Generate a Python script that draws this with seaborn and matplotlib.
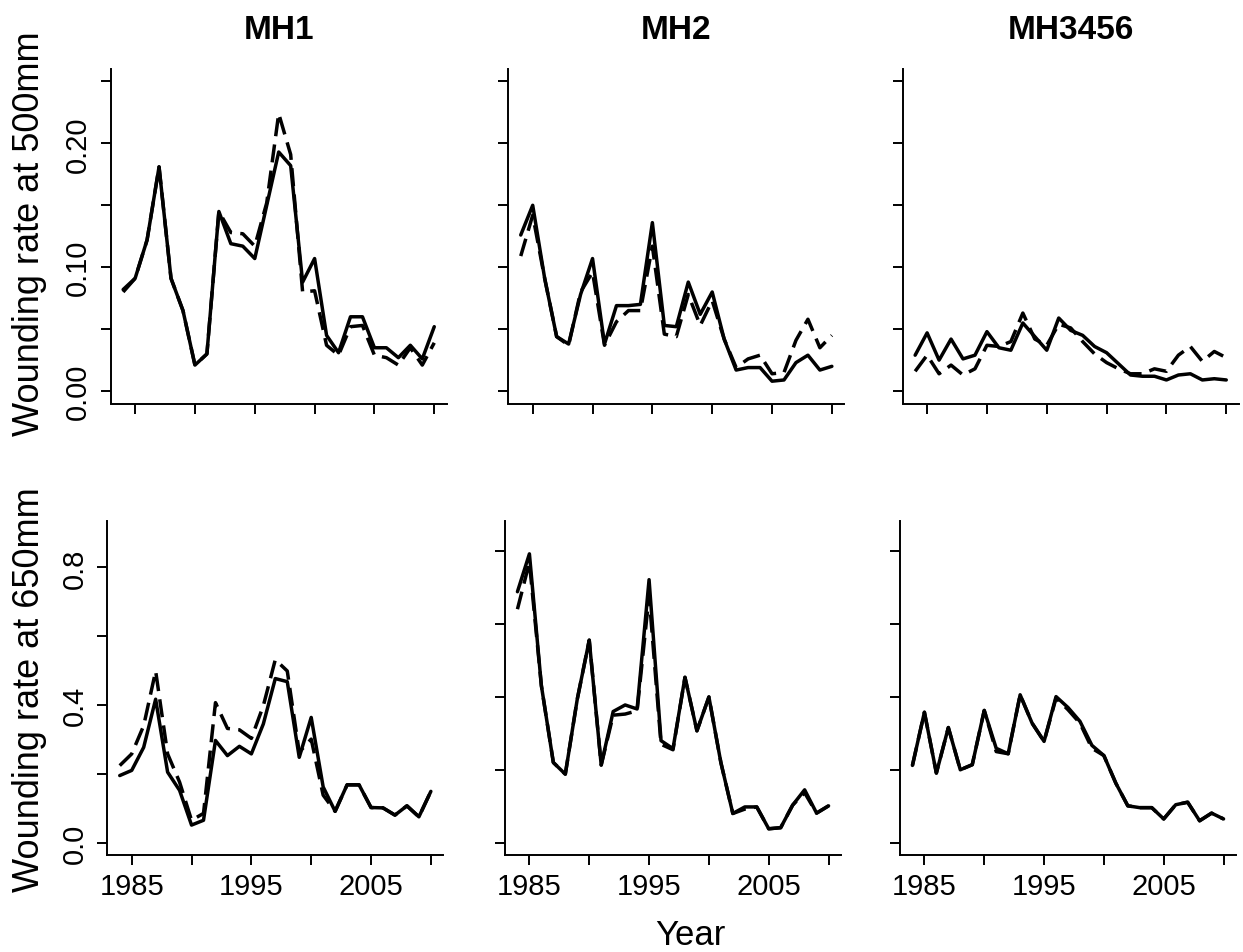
import numpy as np
import pandas as pd
import matplotlib
matplotlib.use("Agg")
import matplotlib.pyplot as plt
import seaborn as sns

years = list(range(1984, 2011))
regions = ["MH1", "MH2", "MH3456"]
sizes = ["500mm", "650mm"]

# Wounding rate, 500 mm
mh1_500_solid = [0.082, 0.091, 0.122, 0.181, 0.091, 0.065, 0.021, 0.030, 0.145, 0.119, 0.117, 0.107, 0.150, 0.193,
                 0.182, 0.088, 0.107, 0.045, 0.031, 0.060, 0.060, 0.035, 0.035, 0.027, 0.037, 0.026, 0.052]
mh1_500_dashed = [0.080, 0.091, 0.122, 0.181, 0.091, 0.065, 0.021, 0.030, 0.145, 0.128, 0.127, 0.117, 0.152, 0.224,
                  0.191, 0.080, 0.081, 0.037, 0.029, 0.052, 0.053, 0.029, 0.027, 0.021, 0.035, 0.021, 0.039]
mh2_500_solid = [0.126, 0.150, 0.091, 0.044, 0.038, 0.078, 0.107, 0.038, 0.069, 0.069, 0.070, 0.136, 0.053, 0.052,
                 0.088, 0.062, 0.080, 0.042, 0.017, 0.019, 0.019, 0.008, 0.009, 0.023, 0.029, 0.017, 0.020]
mh2_500_dashed = [0.109, 0.142, 0.091, 0.044, 0.037, 0.080, 0.096, 0.037, 0.056, 0.065, 0.065, 0.117, 0.046, 0.044,
                  0.078, 0.053, 0.073, 0.042, 0.019, 0.026, 0.029, 0.014, 0.015, 0.041, 0.058, 0.035, 0.045]
mh3456_500_solid = [0.029, 0.047, 0.025, 0.042, 0.026, 0.029, 0.048, 0.035, 0.033, 0.055, 0.044, 0.033, 0.059, 0.049,
                    0.045, 0.036, 0.031, 0.022, 0.013, 0.012, 0.012, 0.009, 0.013, 0.014, 0.009, 0.010, 0.009]
mh3456_500_dashed = [0.016, 0.029, 0.014, 0.021, 0.013, 0.018, 0.037, 0.036, 0.040, 0.063, 0.042, 0.037, 0.054, 0.051,
                     0.040, 0.030, 0.023, 0.018, 0.014, 0.014, 0.018, 0.016, 0.029, 0.036, 0.024, 0.032, 0.027]

# Wounding rate, 650 mm
mh1_650_solid = [0.195, 0.210, 0.277, 0.417, 0.205, 0.152, 0.051, 0.065, 0.297, 0.253, 0.280, 0.258, 0.345, 0.477,
                 0.468, 0.248, 0.364, 0.162, 0.091, 0.168, 0.168, 0.102, 0.101, 0.080, 0.107, 0.075, 0.149]
mh1_650_dashed = [0.224, 0.258, 0.340, 0.499, 0.258, 0.176, 0.065, 0.085, 0.407, 0.332, 0.328, 0.303, 0.398, 0.532,
                  0.499, 0.263, 0.301, 0.138, 0.091, 0.168, 0.168, 0.102, 0.101, 0.080, 0.107, 0.075, 0.149]
mh2_650_solid = [0.689, 0.793, 0.431, 0.220, 0.188, 0.394, 0.556, 0.213, 0.360, 0.378, 0.367, 0.722, 0.280, 0.258,
                 0.454, 0.307, 0.400, 0.220, 0.080, 0.098, 0.098, 0.038, 0.041, 0.103, 0.145, 0.081, 0.101]
mh2_650_dashed = [0.641, 0.770, 0.431, 0.220, 0.188, 0.394, 0.556, 0.213, 0.350, 0.353, 0.362, 0.678, 0.270, 0.255,
                  0.454, 0.307, 0.400, 0.220, 0.080, 0.092, 0.098, 0.038, 0.041, 0.103, 0.137, 0.081, 0.101]
mh3456_650_solid = [0.212, 0.358, 0.191, 0.316, 0.200, 0.214, 0.363, 0.259, 0.244, 0.406, 0.328, 0.278, 0.401, 0.371,
                    0.333, 0.267, 0.239, 0.163, 0.101, 0.096, 0.096, 0.065, 0.104, 0.111, 0.060, 0.081, 0.065]
mh3456_650_dashed = [0.212, 0.358, 0.191, 0.316, 0.200, 0.214, 0.363, 0.250, 0.244, 0.406, 0.328, 0.278, 0.397, 0.365,
                     0.328, 0.259, 0.239, 0.163, 0.101, 0.096, 0.096, 0.065, 0.104, 0.111, 0.060, 0.081, 0.065]

series = {
    ("500mm", "MH1"): (mh1_500_solid, mh1_500_dashed),
    ("500mm", "MH2"): (mh2_500_solid, mh2_500_dashed),
    ("500mm", "MH3456"): (mh3456_500_solid, mh3456_500_dashed),
    ("650mm", "MH1"): (mh1_650_solid, mh1_650_dashed),
    ("650mm", "MH2"): (mh2_650_solid, mh2_650_dashed),
    ("650mm", "MH3456"): (mh3456_650_solid, mh3456_650_dashed),
}

sns.set_style("ticks")
plt.rcParams["font.family"] = ["Liberation Sans", "DejaVu Sans"]
plt.rcParams["text.color"] = "black"
plt.rcParams["axes.labelcolor"] = "black"
plt.rcParams["axes.linewidth"] = 1.4
plt.rcParams["xtick.major.width"] = 1.4
plt.rcParams["ytick.major.width"] = 1.4
plt.rcParams["xtick.major.size"] = 7.5
plt.rcParams["ytick.major.size"] = 7.5
plt.rcParams["xtick.color"] = "black"
plt.rcParams["ytick.color"] = "black"
plt.rcParams["xtick.labelcolor"] = "black"
plt.rcParams["ytick.labelcolor"] = "black"
plt.rcParams["axes.edgecolor"] = "black"

W, H = 1243, 953
fig = plt.figure(figsize=(W / 100, H / 100), dpi=100)

# panel boxes in pixels: (left, top, width, height)
boxes = {
    ("500mm", 0): (110.7, 70.0, 336, 334.5),
    ("500mm", 1): (508.3, 70.0, 336, 334.5),
    ("500mm", 2): (902.7, 70.0, 336, 334.5),
    ("650mm", 0): (107.3, 521.7, 336, 334.3),
    ("650mm", 1): (505.0, 521.7, 336, 334.3),
    ("650mm", 2): (900.0, 521.7, 336, 334.3),
}

ylims = {
    ("500mm", 0): (-0.01, 0.26), ("500mm", 1): (-0.01, 0.26), ("500mm", 2): (-0.01, 0.26),
    ("650mm", 0): (-0.036, 0.936), ("650mm", 1): (-0.034, 0.884), ("650mm", 2): (-0.034, 0.884),
}

for size in sizes:
    for j, reg in enumerate(regions):
        l, t, w, h = boxes[(size, j)]
        ax = fig.add_axes([l / W, 1 - (t + h) / H, w / W, h / H])
        solid, dashed = series[(size, reg)]
        df = pd.DataFrame({
            "Year": years * 2,
            "rate": list(solid) + list(dashed),
            "kind": ["solid"] * len(years) + ["dashed"] * len(years),
        })
        sns.lineplot(data=df, x="Year", y="rate", style="kind",
                     dashes={"solid": "", "dashed": (5.2, 2.4)},
                     color="black", linewidth=2.5, legend=False, ax=ax)
        ax.set_xlim(1982.96, 2011.04)
        ax.set_ylim(*ylims[(size, j)])
        sns.despine(ax=ax)
        ax.set_xlabel("")
        ax.set_ylabel("")
        ax.set_xticks([1985, 1990, 1995, 2000, 2005, 2010])
        if size == "500mm":
            ax.set_yticks([0, 0.05, 0.10, 0.15, 0.20, 0.25])
            ax.set_yticklabels(["0.00", "", "0.10", "", "0.20", ""] if j == 0 else [""] * 6)
            ax.set_xticklabels([""] * 6)
            ax.set_title(reg, fontsize=24, fontweight="bold", pad=22, color="black")
        else:
            ax.set_yticks([0, 0.2, 0.4, 0.6, 0.8])
            ax.set_yticklabels(["0.0", "", "0.4", "", "0.8"] if j == 0 else [""] * 5)
            ax.set_xticklabels(["1985", "", "1995", "", "2005", ""])
        ax.tick_params(axis="x", labelsize=21, pad=5)
        ax.tick_params(axis="y", labelsize=21, pad=6)
        for lab in ax.get_yticklabels():
            lab.set_rotation(90)
            lab.set_va("center")

fig.text(30 / W, 1 - 234 / H, "Wounding rate at 500mm", rotation=90, ha="center", va="center", fontsize=26)
fig.text(30 / W, 1 - 690 / H, "Wounding rate at 650mm", rotation=90, ha="center", va="center", fontsize=26)
fig.text(690 / W, 1 - 936 / H, "Year", ha="center", va="center", fontsize=25)

fig.savefig("out.png", dpi=100, facecolor="white")
